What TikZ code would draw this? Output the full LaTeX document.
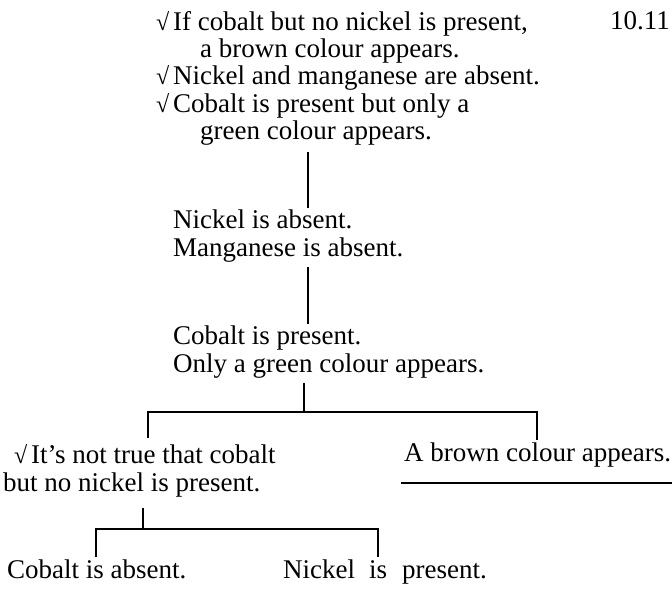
\documentclass[tikz,border=0pt]{standalone}
\usepackage{fontspec}
\setmainfont{Liberation Serif}
\newcommand{\chkmark}{\makebox[17pt][l]{\fontsize{24pt}{24pt}\selectfont √}}
\tikzset{
  txt/.style={font=\fontsize{27pt}{27.5pt}\selectfont, align=left,
              inner xsep=0pt, inner ysep=2pt, anchor=base west},
  conn/.style={line width=1.3pt, line cap=butt}
}
\begin{document}
\begin{tikzpicture}[x=1pt, y=-1pt]
  \useasboundingbox (0,0) rectangle (672,591);

  % premises at the top of the tree (multi-line nodes sit on their last baseline)
  \node[txt] (top) at (156,140) {\chkmark If cobalt but no nickel is present,\\
    \hspace*{44pt}a brown colour appears.\\
    \chkmark Nickel and manganese are absent.\\
    \chkmark Cobalt is present but only a\\
    \hspace*{44pt}green colour appears.};
  \node[txt, anchor=base east] (num) at (670,30) {10.11};

  \node[txt] (nm) at (173,256) {Nickel is absent.\\Manganese is absent.};
  \node[txt] (cg) at (173,372) {Cobalt is present.\\Only a green colour appears.};

  % first branching
  \node[txt] (nt) at (3,491) {\hspace*{11pt}\chkmark It’s not true that cobalt\\but no nickel is present.};
  \node[txt] (br) at (404,461) {A brown colour appears.};

  % second branching
  \node[txt] (ca) at (7,578) {Cobalt is absent.};
  \node[txt] (np) at (283,578) {Nickel\hspace{14pt}is\hspace{15pt}present.};

  % trunk
  \coordinate (s1) at (308,0);
  \coordinate (s3) at (304,0);
  \draw[conn, shorten <=4pt] (top.south -| s1) -- (nm.north -| s1);
  \draw[conn, shorten <=3pt] (nm.south -| s1) -- (cg.north -| s1);

  % first fork
  \coordinate (barL) at (148,412);
  \coordinate (barR) at (537,412);
  \draw[conn, shorten <=3pt] (cg.south -| s3) -- (s3 |- barL);
  \draw[conn, shorten >=4pt] (barR |- br.north) -- (barR) -- (barL) -- (barL |- nt.north);

  % closed branch
  \draw[conn] ([xshift=-3pt, yshift=-14pt]br.south west) -- ([xshift=2pt, yshift=-14pt]br.south east);

  % second fork
  \coordinate (s4) at (143,0);
  \coordinate (bL) at (96,529);
  \coordinate (bR) at (378,529);
  \draw[conn, shorten <=9pt] (nt.south -| s4) -- (s4 |- bL);
  \draw[conn] (bL |- ca.north) -- (bL) -- (bR) -- (bR |- np.north);
\end{tikzpicture}
\end{document}
